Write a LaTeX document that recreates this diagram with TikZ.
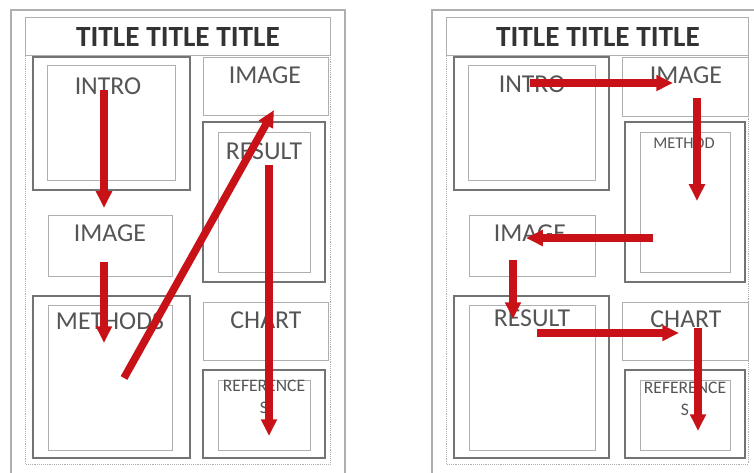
\documentclass[tikz,border=0pt]{standalone}
\usepackage{fontspec}
\setmainfont{Carlito}
\usetikzlibrary{arrows.meta, positioning, fit}

\definecolor{flowred}{RGB}{200,18,24}
\definecolor{boxgray}{RGB}{115,115,115}
\definecolor{palegray}{RGB}{175,175,175}
\definecolor{textgray}{RGB}{85,85,85}

\begin{document}
\begin{tikzpicture}[
    x=0.03cm, y=-0.03cm,
    posterframe/.style={draw=palegray, line width=1.6pt},
    pageline/.style={draw=palegray, densely dotted, line width=0.6pt},
    panel/.style={draw=boxgray, line width=1pt, inner sep=0pt},
    subpanel/.style={draw=palegray, line width=0.6pt, inner sep=0pt},
    lightpanel/.style={draw=palegray, line width=0.7pt, inner sep=0pt},
    heading/.style={font=\fontsize{25}{28}\selectfont\bfseries, text=black!80},
    boxtext/.style={font=\fontsize{22}{24}\selectfont, text=textgray},
    smalltext/.style={font=\fontsize{15}{19}\selectfont, text=textgray, align=center},
    flow/.style={flowred, line width=6.5pt, -{Triangle[length=0pt 2.2, width=0pt 2]}}
  ]
  \useasboundingbox (0,0) rectangle (754,472);

  % Left poster
  \draw[posterframe] (11,10) rectangle (345,476);
  \draw[pageline] (25,17) rectangle (330,464);
  \node[lightpanel, fit={(25,17) (330,55)}] (ltitlebox) {};
  \node[heading] (ltitle) at (178,37) {TITLE TITLE TITLE};

  \node[panel, fit={(33,57) (190,190)}] (lintro) {};
  \node[subpanel, fit={(47,65) (175,180)}] (lintroin) {};
  \node[boxtext] (lintrotxt) at (108,86) {INTRO};

  \node[lightpanel, fit={(203,57) (328,115)}] (limgtop) {};
  \node[boxtext] (limgtoptxt) at (265,75) {IMAGE};

  \node[panel, fit={(203,122) (325,282)}] (lresult) {};
  \node[subpanel, fit={(218,132) (310,272)}] (lresultin) {};
  \node[boxtext] (lresulttxt) at (264,151) {RESULT};

  \node[lightpanel, fit={(48,215) (172,276)}] (limgmid) {};
  \node[boxtext] (limgmidtxt) at (110,233) {IMAGE};

  \node[panel, fit={(33,296) (190,458)}] (lmethods) {};
  \node[subpanel, fit={(48,305) (172,450)}] (lmethodsin) {};
  \node[boxtext] (lmethodstxt) at (110,321) {METHODS};

  \node[lightpanel, fit={(203,302) (328,360)}] (lchart) {};
  \node[boxtext] (lcharttxt) at (266,320) {CHART};

  \node[panel, fit={(203,370) (325,458)}] (lrefs) {};
  \node[subpanel, fit={(218,380) (310,450)}] (lrefsin) {};
  \node[smalltext] (lrefstxt) at (264,397) {REFERENCE\\S};

  % Right poster
  \begin{scope}[shift={(421,0)}]
    \draw[posterframe] (11,10) rectangle (345,476);
    \draw[pageline] (25,17) rectangle (327,464);
    \node[lightpanel, fit={(25,17) (327,55)}] (rtitlebox) {};
    \node[heading] (rtitle) at (177,37) {TITLE TITLE TITLE};

    \node[panel, fit={(33,57) (188,190)}] (rintro) {};
    \node[subpanel, fit={(47,65) (174,180)}] (rintroin) {};
    \node[boxtext] (rintrotxt) at (111,84) {INTRO};

    \node[lightpanel, fit={(201,57) (327,116)}] (rimgtop) {};
    \node[boxtext] (rimgtoptxt) at (265,75) {IMAGE};

    \node[panel, fit={(204,122) (324,282)}] (rmethod) {};
    \node[subpanel, fit={(219,132) (309,272)}] (rmethodin) {};
    \node[smalltext, font=\fontsize{14}{16}\selectfont] (rmethodtxt) at (263,143) {METHOD};

    \node[lightpanel, fit={(48,215) (174,276)}] (rimgmid) {};
    \node[boxtext] (rimgmidtxt) at (109,233) {IMAGE};

    \node[panel, fit={(33,296) (188,458)}] (rresult) {};
    \node[subpanel, fit={(48,305) (174,450)}] (rresultin) {};
    \node[boxtext] (rresulttxt) at (111,318) {RESULT};

    \node[lightpanel, fit={(201,302) (327,360)}] (rchart) {};
    \node[boxtext] (rcharttxt) at (265,319) {CHART};

    \node[panel, fit={(204,370) (324,458)}] (rrefs) {};
    \node[subpanel, fit={(219,380) (309,450)}] (rrefsin) {};
    \node[smalltext] (rrefstxt) at (264,399) {REFERENCE\\S};
  \end{scope}

  % Reading paths
  \coordinate (l1a) at (104,90);   \coordinate (l1b) at (104,208);
  \coordinate (l2a) at (104,262);  \coordinate (l2b) at (104,343);
  \coordinate (l3a) at (124,378);  \coordinate (l3b) at (274,110);
  \coordinate (l4a) at (269,165);  \coordinate (l4b) at (269,436);
  \foreach \s/\e in {l1a/l1b, l2a/l2b, l3a/l3b, l4a/l4b}
    \draw[flow] (\s) -- (\e);

  \coordinate (r1a) at (530,83);   \coordinate (r1b) at (673,83);
  \coordinate (r2a) at (697,98);   \coordinate (r2b) at (697,201);
  \coordinate (r3a) at (653,238);  \coordinate (r3b) at (526,238);
  \coordinate (r4a) at (513,260);  \coordinate (r4b) at (513,319);
  \coordinate (r5a) at (537,333);  \coordinate (r5b) at (679,333);
  \coordinate (r6a) at (698,328);  \coordinate (r6b) at (698,431);
  \foreach \s/\e in {r1a/r1b, r2a/r2b, r3a/r3b, r4a/r4b, r5a/r5b, r6a/r6b}
    \draw[flow] (\s) -- (\e);
\end{tikzpicture}
\end{document}
